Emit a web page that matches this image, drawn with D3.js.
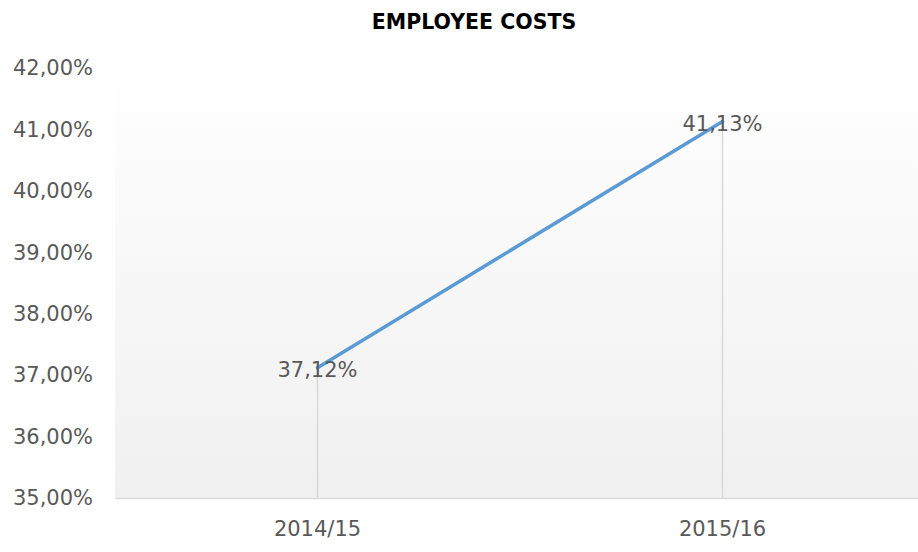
<!DOCTYPE html>
<html>
<head>
<meta charset="utf-8">
<script src="https://cdn.jsdelivr.net/npm/d3@7"></script>
<style>
  body { margin: 0; background: #fff; }
  text { font-family: "DejaVu Sans", sans-serif; }
</style>
</head>
<body>
<div id="chart"></div>
<script>
var categories = ['2014/15', '2015/16']
var values = [37.12, 41.13]
var yTicks = [35, 36, 37, 38, 39, 40, 41, 42]

var W = 918, H = 552
var margin = { top: 68, right: -7, bottom: 54, left: 115 }

var fmt = function(v) { return v.toFixed(2).replace('.', ',') + '%' }

var svg = d3.select('#chart').append('svg')
    .attr('width', W)
    .attr('height', H)

var defs = svg.append('defs')
var grad = defs.append('linearGradient')
    .attr('id', 'bg')
    .attr('x1', 0).attr('y1', 0).attr('x2', 0).attr('y2', 1)
grad.append('stop').attr('offset', '0%').attr('stop-color', '#ffffff')
grad.append('stop').attr('offset', '100%').attr('stop-color', '#f0f0f0')

var width = W - margin.left - margin.right
var height = H - margin.top - margin.bottom

var x = d3.scaleBand()
    .domain(categories)
    .range([0, width])

var y = d3.scaleLinear()
    .domain([35, 42])
    .range([height, 0])

var g = svg.append('g')
    .attr('transform', 'translate(' + margin.left + ',' + margin.top + ')')

// plot background
g.append('rect')
    .attr('x', 0)
    .attr('y', -8)
    .attr('width', width)
    .attr('height', height + 8)
    .attr('fill', 'url(#bg)')

// title
svg.append('text')
    .attr('x', 474)
    .attr('y', 29)
    .attr('text-anchor', 'middle')
    .attr('font-size', 20.5)
    .attr('font-weight', 'bold')
    .attr('fill', '#000')
    .text('EMPLOYEE COSTS')

// y axis labels
var yAxis = g.append('g')
    .call(d3.axisLeft(y).tickValues(yTicks).tickFormat(fmt).tickSize(0).tickPadding(22))
yAxis.select('.domain').remove()
yAxis.selectAll('text')
    .attr('font-size', 21)
    .attr('fill', '#595959')
    .style('font-family', '"DejaVu Sans", sans-serif')

// x axis
var xAxis = g.append('g')
    .attr('transform', 'translate(0,' + height + ')')
    .call(d3.axisBottom(x).tickSize(0).tickPadding(23))
xAxis.select('.domain')
    .attr('stroke', '#d9d9d9')
    .attr('stroke-width', 1.5)
xAxis.selectAll('text')
    .attr('font-size', 21)
    .attr('fill', '#595959')
    .style('font-family', '"DejaVu Sans", sans-serif')

var cx = function(d, i) { return x(categories[i]) + x.bandwidth() / 2 }

// drop lines
g.selectAll('.drop')
    .data(values)
    .enter().append('line')
    .attr('class', 'drop')
    .attr('x1', cx)
    .attr('x2', cx)
    .attr('y1', function(d) { return y(d) })
    .attr('y2', height)
    .attr('stroke', '#d9d9d9')
    .attr('stroke-width', 1.5)

var line = d3.line()
    .x(cx)
    .y(function(d) { return y(d) })

g.append('path')
    .datum(values)
    .attr('fill', 'none')
    .attr('stroke', '#5b9bd5')
    .attr('stroke-width', 3.5)
    .attr('stroke-linecap', 'round')
    .attr('d', line)

// data labels
g.selectAll('.lbl')
    .data(values)
    .enter().append('text')
    .attr('class', 'lbl')
    .attr('x', cx)
    .attr('y', function(d) { return y(d) })
    .attr('dy', '0.45em')
    .attr('text-anchor', 'middle')
    .attr('font-size', 21)
    .attr('fill', '#595959')
    .text(fmt)
</script>
</body>
</html>
